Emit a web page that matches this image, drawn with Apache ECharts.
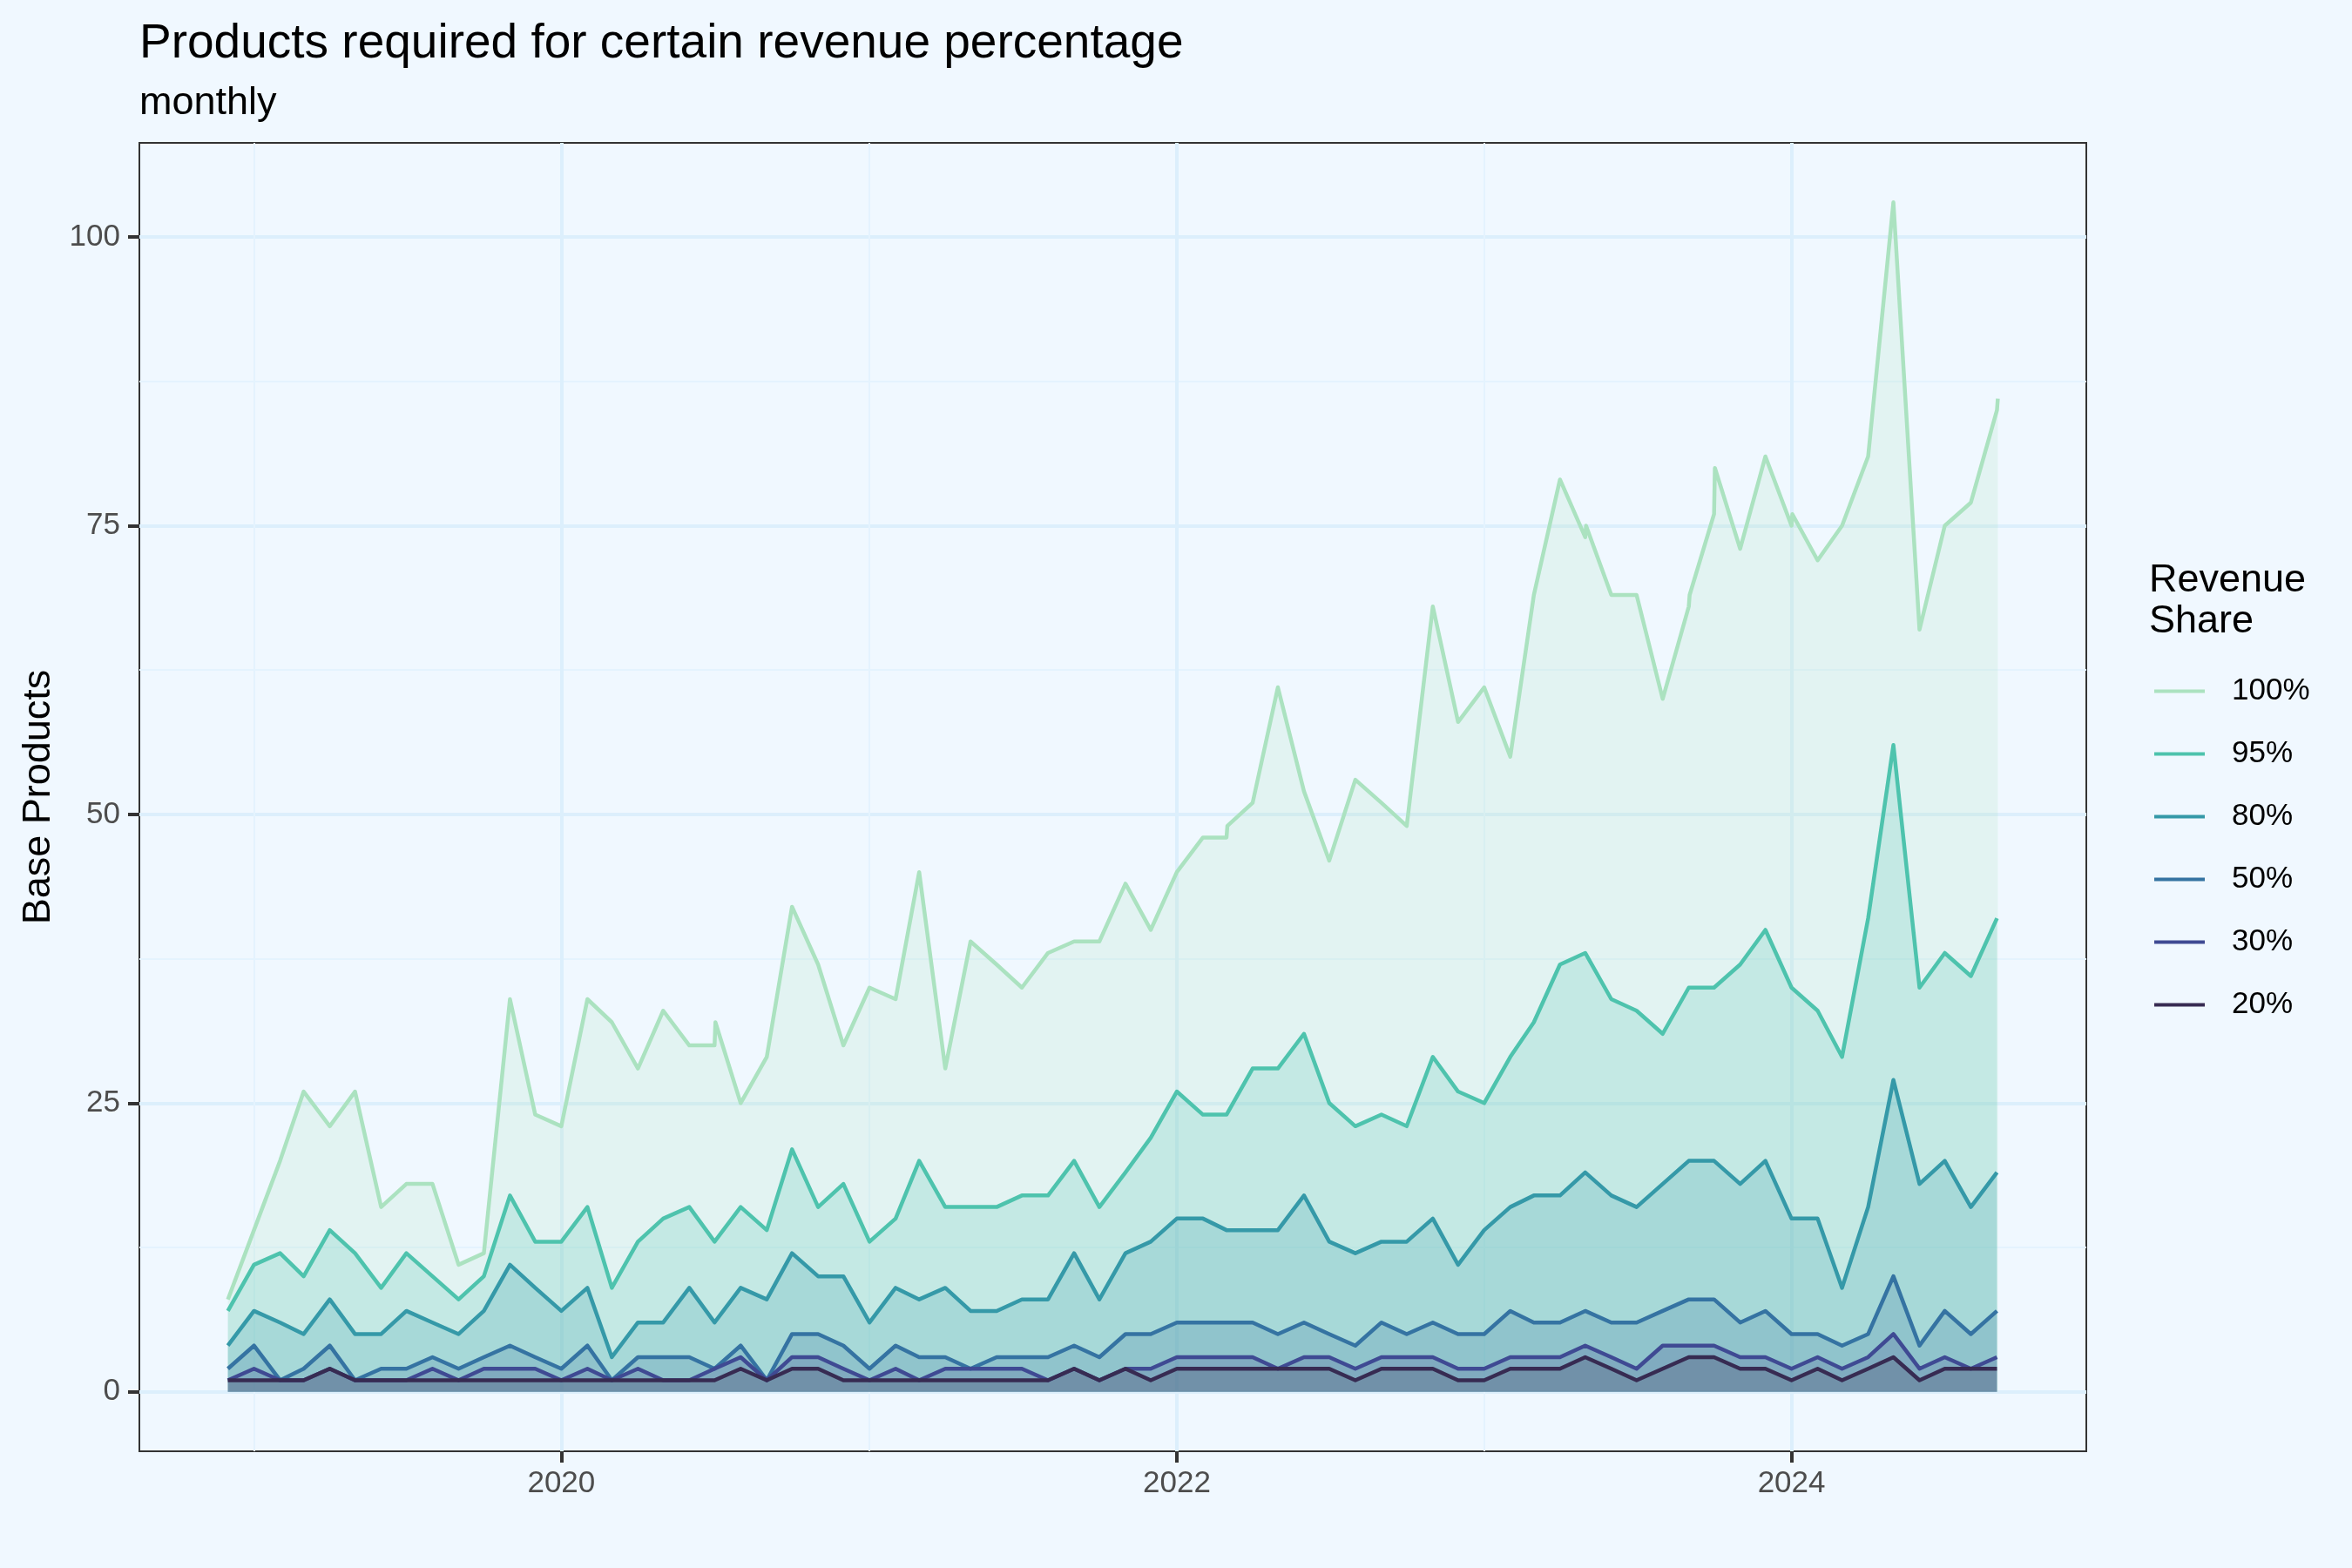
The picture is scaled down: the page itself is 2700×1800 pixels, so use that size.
<!DOCTYPE html>
<html>
<head>
<meta charset="utf-8">
<script src="https://cdn.jsdelivr.net/npm/echarts@6/dist/echarts.min.js"></script>
<style>
html,body{margin:0;padding:0;background:#F0F8FF;}
#chart{width:2700px;height:1800px;}
</style>
</head>
<body>
<div id="chart"></div>
<script>
// ---------------- data ----------------
const months = [
  '2018-12',
  '2019-01','2019-02','2019-03','2019-04','2019-05','2019-06','2019-07','2019-08','2019-09','2019-10','2019-11','2019-12',
  '2020-01','2020-02','2020-03','2020-04','2020-05','2020-06','2020-07','2020-08','2020-09','2020-10','2020-11','2020-12',
  '2021-01','2021-02','2021-03','2021-04','2021-05','2021-06','2021-07','2021-08','2021-09','2021-10','2021-11','2021-12',
  '2022-01','2022-02','2022-03','2022-04','2022-05','2022-06','2022-07','2022-08','2022-09','2022-10','2022-11','2022-12',
  '2023-01','2023-02','2023-03','2023-04','2023-05','2023-06','2023-07','2023-08','2023-09','2023-10','2023-11','2023-12',
  '2024-01','2024-02','2024-03','2024-04','2024-05','2024-06','2024-07','2024-08','2024-09'
];

const share100 = [
  8,
  14,20,26,23,26,16,18,18,11,12,34,24,
  23,34,32,28,33,30,30,25,29,42,37,30,
  35,34,45,28,39,37,35,38,39,39,44,40,
  45,48,48,51,61,52,46,53,51,49,68,58,
  61,55,69,79,74,69,69,60,68,76,73,81,
  75,72,75,81,103,66,75,77,85
];
// additional intra-month observations of the 100% line
const extra100 = [
  ['2020-07-02',32],
  ['2022-03-02',49],
  ['2023-05-02',75],
  ['2023-09-02',69],
  ['2023-10-02',80],
  ['2024-01-02',76],
  ['2024-09-02',86]
];
const share95 = [
  7,
  11,12,10,14,12,9,12,10,8,10,17,13,
  13,16,9,13,15,16,13,16,14,21,16,18,
  13,15,20,16,16,16,17,17,20,16,19,22,
  26,24,24,28,28,31,25,23,24,23,29,26,
  25,29,32,37,38,34,33,31,35,35,37,40,
  35,33,29,41,56,35,38,36,41
];
const share80 = [
  4,
  7,6,5,8,5,5,7,6,5,7,11,9,
  7,9,3,6,6,9,6,9,8,12,10,10,
  6,9,8,9,7,7,8,8,12,8,12,13,
  15,15,14,14,14,17,13,12,13,13,15,11,
  14,16,17,17,19,17,16,18,20,20,18,20,
  15,15,9,16,27,18,20,16,19
];
const share50 = [
  2,
  4,1,2,4,1,2,2,3,2,3,4,3,
  2,4,1,3,3,3,2,4,1,5,5,4,
  2,4,3,3,2,3,3,3,4,3,5,5,
  6,6,6,6,5,6,5,4,6,5,6,5,
  5,7,6,6,7,6,6,7,8,8,6,7,
  5,5,4,5,10,4,7,5,7
];
const share30 = [
  1,
  2,1,1,2,1,1,1,2,1,2,2,2,
  1,2,1,2,1,1,2,3,1,3,3,2,
  1,2,1,2,2,2,2,1,2,1,2,2,
  3,3,3,3,2,3,3,2,3,3,3,2,
  2,3,3,3,4,3,2,4,4,4,3,3,
  2,3,2,3,5,2,3,2,3
];
const share20 = [
  1,
  1,1,1,2,1,1,1,1,1,1,1,1,
  1,1,1,1,1,1,1,2,1,2,2,1,
  1,1,1,1,1,1,1,1,2,1,2,1,
  2,2,2,2,2,2,2,1,2,2,2,1,
  1,2,2,2,3,2,1,2,3,3,2,2,
  1,2,1,2,3,1,2,2,2
];

const seriesNames = ['100%','95%','80%','50%','30%','20%'];
const seriesColors = ['#ABE2C0','#4EC3AD','#3599A8','#3573A2','#3F4A93','#372B52'];
const yTickValues = [0,25,50,75,100];
const yMinorValues = [12.5,37.5,62.5,87.5];
const xTickDates = ['2020-01-01','2022-01-01','2024-01-01'];
const xMinorDates = ['2019-01-01','2021-01-01','2023-01-01'];

const titleText = 'Products required for certain revenue percentage';
const subtitleText = 'monthly';
const yAxisTitle = 'Base Products';
const legendTitle = 'Revenue\nShare';

// ---------------- build ----------------
function ts(s){
  const p = s.split('-');
  return Date.UTC(+p[0], +p[1]-1, p.length > 2 ? +p[2] : 1);
}
function pairs(vals){ return months.map((m,i)=>[ts(m), vals[i]]); }

const data100 = pairs(share100).concat(extra100.map(e=>[ts(e[0]), e[1]]))
  .sort((a,b)=>a[0]-b[0]);
const allData = [data100, pairs(share95), pairs(share80), pairs(share50), pairs(share30), pairs(share20)];

let xLo = Infinity, xHi = -Infinity, yHi = -Infinity, yLo = 0;
allData.forEach(d=>d.forEach(p=>{ xLo=Math.min(xLo,p[0]); xHi=Math.max(xHi,p[0]); yHi=Math.max(yHi,p[1]); }));
const xPad = (xHi-xLo)*0.05, yPad = (yHi-yLo)*0.05;

const FONT = 'Liberation Sans, Arial, Helvetica, sans-serif';
const chart = echarts.init(document.getElementById('chart'), null, {renderer:'canvas'});

const xBase = {
  type:'value', min:xLo-xPad, max:xHi+xPad, gridIndex:0, scale:true, position:'bottom'
};
const yBase = {
  type:'value', min:yLo-yPad, max:yHi+yPad, gridIndex:0, position:'left'
};

chart.setOption({
  animation:false,
  backgroundColor:'#F0F8FF',
  textStyle:{fontFamily:FONT},
  title:[
    {text:titleText, left:160, top:23, padding:0,
     textStyle:{fontFamily:FONT, fontSize:55, fontWeight:'normal', color:'#000', lineHeight:55}},
    {text:subtitleText, left:160, top:96, padding:0,
     textStyle:{fontFamily:FONT, fontSize:45, fontWeight:'normal', color:'#000', lineHeight:45}},
    {text:legendTitle, left:2467, top:643, padding:0,
     textStyle:{fontFamily:FONT, fontSize:45, fontWeight:'normal', color:'#000', lineHeight:47}}
  ],
  grid:{left:160, right:305, top:164, bottom:134, show:true, borderColor:'#333333', borderWidth:2,
        backgroundColor:'rgba(0,0,0,0)', containLabel:false},
  legend:{
    data:seriesNames.map(n=>({name:n, icon:'rect'})), orient:'vertical', left:2473, top:776, padding:0,
    itemWidth:58, itemHeight:4, itemGap:37, selectedMode:false,
    textStyle:{fontFamily:FONT, fontSize:35, color:'#000', lineHeight:35, padding:[0,0,0,26]}
  },
  xAxis:[
    Object.assign({}, xBase, {
      axisLine:{show:false, onZero:false},
      axisTick:{show:true, length:13, lineStyle:{color:'#333333', width:4}, customValues:xTickDates.map(ts)},
      axisLabel:{show:true, customValues:xTickDates.map(ts), margin:20, fontSize:35, color:'#4D4D4D', fontFamily:FONT,
                 formatter:v=>String(new Date(v).getUTCFullYear())},
      splitLine:{show:true, lineStyle:{color:'#DCEFFC', width:4}}
    }),
    Object.assign({}, xBase, {
      axisLine:{show:false, onZero:false},
      axisTick:{show:false, customValues:xMinorDates.map(ts)},
      axisLabel:{show:false},
      splitLine:{show:true, lineStyle:{color:'#E4F3FE', width:2}}
    })
  ],
  yAxis:[
    Object.assign({}, yBase, {
      name:yAxisTitle, nameLocation:'middle', nameGap:93, nameRotate:90,
      nameTextStyle:{fontFamily:FONT, fontSize:45, color:'#000'},
      axisLine:{show:false, onZero:false},
      axisTick:{show:true, length:13, lineStyle:{color:'#333333', width:4}, customValues:yTickValues},
      axisLabel:{show:true, customValues:yTickValues, margin:22, fontSize:35, color:'#4D4D4D', fontFamily:FONT},
      splitLine:{show:true, lineStyle:{color:'#DCEFFC', width:4}}
    }),
    Object.assign({}, yBase, {
      axisLine:{show:false, onZero:false},
      axisTick:{show:false, customValues:yMinorValues},
      axisLabel:{show:false},
      splitLine:{show:true, lineStyle:{color:'#E4F3FE', width:2}}
    })
  ],
  series: seriesNames.map((name,i)=>({
    name:name, type:'line', xAxisIndex:0, yAxisIndex:0,
    data:allData[i], symbol:'none', showSymbol:false,
    lineStyle:{color:seriesColors[i], width:4.5, join:'round'},
    itemStyle:{color:seriesColors[i]},
    areaStyle:{color:seriesColors[i], opacity:0.2},
    emphasis:{disabled:true}
  }))
});
</script>
</body>
</html>
